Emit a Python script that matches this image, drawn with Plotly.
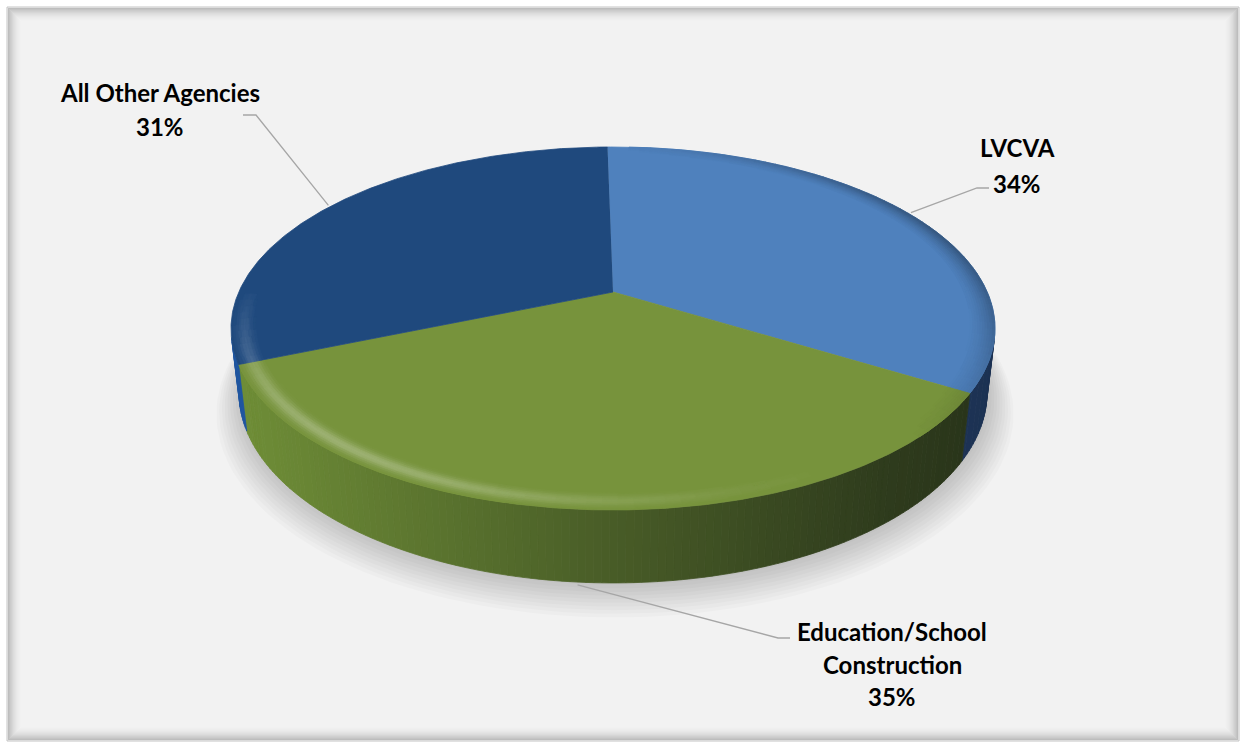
import numpy as np
import plotly.graph_objects as go

# ---------------- data ----------------
categories = ["LVCVA", "Education/School Construction", "All Other Agencies"]
shares = [34, 35, 31]
label_names = [["LVCVA"], ["Education/School", "Construction"], ["All Other Agencies"]]

# ---------------- style ----------------
top_colors = ["#4f81bd", "#77933c", "#1f497d"]
side_light = ["#4a78b0", "#6f8e37", "#2056a0"]
side_dark = ["#1c3152", "#28331a", "#0f2440"]
label_pos = [(1017, [147, 183]), (892, [631, 664, 696]), (160, [92, 126])]
leader_bend = [[(977, 188), (989, 188)], [(778, 638), (790, 638)], [(256, 115), (243, 115)]]

W, H = 1243, 742
CX, CY = 613, 292
F, D = 1648.0, 4.404
TH = np.radians(27.74)
sT, cT = np.sin(TH), np.cos(TH)
DEPTH = 0.194
START = -1.0
LIGHT = 228.0


def proj(X, Y, Z):
    den = D + Y * cT - Z * sT
    return CX + F * X / den, CY - F * (Y * sT + Z * cT) / den


def rim(phi_deg, r=1.0, z=0.0):
    p = np.radians(phi_deg)
    return proj(r * np.sin(p), r * np.cos(p), z)


def hex2rgb(h):
    h = h.lstrip("#")
    return np.array([int(h[i:i + 2], 16) for i in (0, 2, 4)], dtype=float)


def rgb2hex(c):
    c = np.clip(np.round(c), 0, 255).astype(int)
    return "#%02x%02x%02x" % tuple(c)


def mix(a, b, w):
    return a * (1 - w) + b * w


total = float(sum(shares))
bounds = np.concatenate([[0.0], np.cumsum(shares)]) / total * 360.0 + START

fig = go.Figure()


def add_groups(groups):
    for col, polys in groups.items():
        xs, ys = [], []
        for px, py in polys:
            xs += list(px) + [px[0], None]
            ys += list(py) + [py[0], None]
        fig.add_trace(go.Scatter(x=xs, y=ys, mode="lines", fill="toself",
                                 fillcolor=col, line=dict(color=col, width=0.8),
                                 hoverinfo="skip", showlegend=False))


# ---- shadow ----
circ = np.linspace(0, 360, 181)
for i in range(10):
    s = 1.0 + 0.007 * i
    dy = 2 + 1.6 * i
    pts = [rim(a, s, -DEPTH) for a in circ]
    fig.add_trace(go.Scatter(x=[p[0] + 2 for p in pts], y=[p[1] + dy for p in pts],
                             mode="lines", fill="toself", fillcolor="rgba(0,0,0,0.018)",
                             line=dict(width=0), hoverinfo="skip", showlegend=False))

# ---- sides (front-facing only) ----
cos_lim = -1.0 / (D * cT)
x_left, x_right = 233.0, 997.0
w_stops_t = [0.0, 0.5, 0.85, 1.0]
w_stops_w = [0.0, 0.55, 0.9, 1.0]
side_groups = {}
for i in range(len(shares)):
    a0, a1 = bounds[i], bounds[i + 1]
    n = max(2, int(np.ceil((a1 - a0) / 1.0)))
    ang = np.linspace(a0, a1, n + 1)
    for k in range(n):
        pa, pb = ang[k], ang[k + 1]
        pm = 0.5 * (pa + pb)
        if np.cos(np.radians(pm)) >= cos_lim:
            continue
        t1 = rim(pa); t2 = rim(pb)
        b2 = rim(pb, 1.0, -DEPTH); b1 = rim(pa, 1.0, -DEPTH)
        xm = 0.5 * (t1[0] + t2[0])
        t = np.clip((xm - x_left) / (x_right - x_left), 0, 1)
        w = np.interp(t, w_stops_t, w_stops_w)
        col = rgb2hex(mix(hex2rgb(side_light[i]), hex2rgb(side_dark[i]), w))
        side_groups.setdefault(col, []).append(
            ([t1[0], t2[0], b2[0], b1[0]], [t1[1], t2[1], b2[1], b1[1]]))
add_groups(side_groups)

# ---- top slices ----
for i in range(len(shares)):
    a0, a1 = bounds[i], bounds[i + 1]
    ang = np.linspace(a0, a1, int(np.ceil(a1 - a0)) * 2 + 1)
    pts = [proj(0, 0, 0)] + [rim(a) for a in ang]
    fig.add_trace(go.Scatter(x=[p[0] for p in pts], y=[p[1] for p in pts],
                             mode="lines", fill="toself", fillcolor=top_colors[i],
                             line=dict(color=top_colors[i], width=0.8),
                             hoverinfo="skip", showlegend=False))

# ---- soft bevel on the top rim ----
radii = np.linspace(0.9, 1.0, 17)
ring_groups = {}
white = np.array([255.0, 255.0, 255.0])
black = np.array([0.0, 0.0, 0.0])
for i in range(len(shares)):
    a0, a1 = bounds[i], bounds[i + 1]
    n = max(2, int(np.ceil((a1 - a0) / 2.0)))
    ang = np.linspace(a0, a1, n + 1)
    base = hex2rgb(top_colors[i])
    for k in range(n):
        pa, pb = ang[k], ang[k + 1]
        pm = np.radians(0.5 * (pa + pb))
        d = np.cos(pm - np.radians(LIGHT))
        sx = np.sin(pm)
        frontw = max(-np.cos(pm), 0.0) ** 0.5
        for j in range(len(radii) - 1):
            r0, r1 = radii[j], radii[j + 1]
            rc = 0.5 * (r0 + r1)
            g = np.exp(-((rc - 0.966) / 0.018) ** 2)
            hdark = np.clip((rc - 0.93) / 0.07, 0, 1) ** 1.5
            lt = 0.32 * max(d, 0.0) ** 2.5 * frontw * g
            dk = 0.38 * max(-d, 0.0) * max(sx, 0.0) * hdark
            if lt < 0.01 and dk < 0.01:
                continue
            lt = round(lt * 100) / 100
            dk = round(dk * 100) / 100
            col = rgb2hex(mix(mix(base, white, lt), black, dk))
            p1 = rim(pa, r0); p2 = rim(pb, r0); p3 = rim(pb, r1); p4 = rim(pa, r1)
            ring_groups.setdefault(col, []).append(
                ([p1[0], p2[0], p3[0], p4[0]], [p1[1], p2[1], p3[1], p4[1]]))
add_groups(ring_groups)

# ---- leader lines and labels ----
annotations = []
for i in range(len(shares)):
    mid = 0.5 * (bounds[i] + bounds[i + 1])
    front = np.cos(np.radians(mid)) < -0.5
    sx, sy = rim(mid, 1.01, -DEPTH if front else 0.0)
    xs = [sx] + [p[0] for p in leader_bend[i]]
    ys = [sy] + [p[1] for p in leader_bend[i]]
    fig.add_trace(go.Scatter(x=xs, y=ys, mode="lines",
                             line=dict(color="#a6a6a6", width=1.3),
                             hoverinfo="skip", showlegend=False))
    pct = f"{round(shares[i] / total * 100)}%"
    lines = label_names[i] + [pct]
    lx, lys = label_pos[i]
    for txt, ly in zip(lines, lys):
        annotations.append(dict(x=lx, y=ly, xref="x", yref="y", text=f"<b>{txt}</b>",
                                showarrow=False, xanchor="center", yanchor="middle",
                                font=dict(family="Lato", size=24, color="#000000")))

# ---- frame ----
shapes = [dict(type="rect", xref="x", yref="y", x0=7, y0=7, x1=1239, y1=741,
               fillcolor="#f2f2f2", line=dict(color="#c4c4c4", width=1), layer="below")]
for k in range(14):
    a = 0.22 * (1 - k / 14) ** 2
    shapes.append(dict(type="rect", xref="x", yref="y", x0=8.5 + k, y0=8.5 + k,
                       x1=1237.5 - k, y1=739.5 - k, fillcolor="rgba(0,0,0,0)",
                       line=dict(color=f"rgba(0,0,0,{a:.3f})", width=1), layer="below"))

fig.update_layout(
    width=W, height=H, margin=dict(l=0, r=0, t=0, b=0),
    paper_bgcolor="#ffffff", plot_bgcolor="rgba(0,0,0,0)",
    xaxis=dict(range=[0, W], visible=False, fixedrange=True),
    yaxis=dict(range=[H, 0], visible=False, fixedrange=True),
    shapes=shapes, annotations=annotations, showlegend=False,
)

fig.write_html("out.html")
